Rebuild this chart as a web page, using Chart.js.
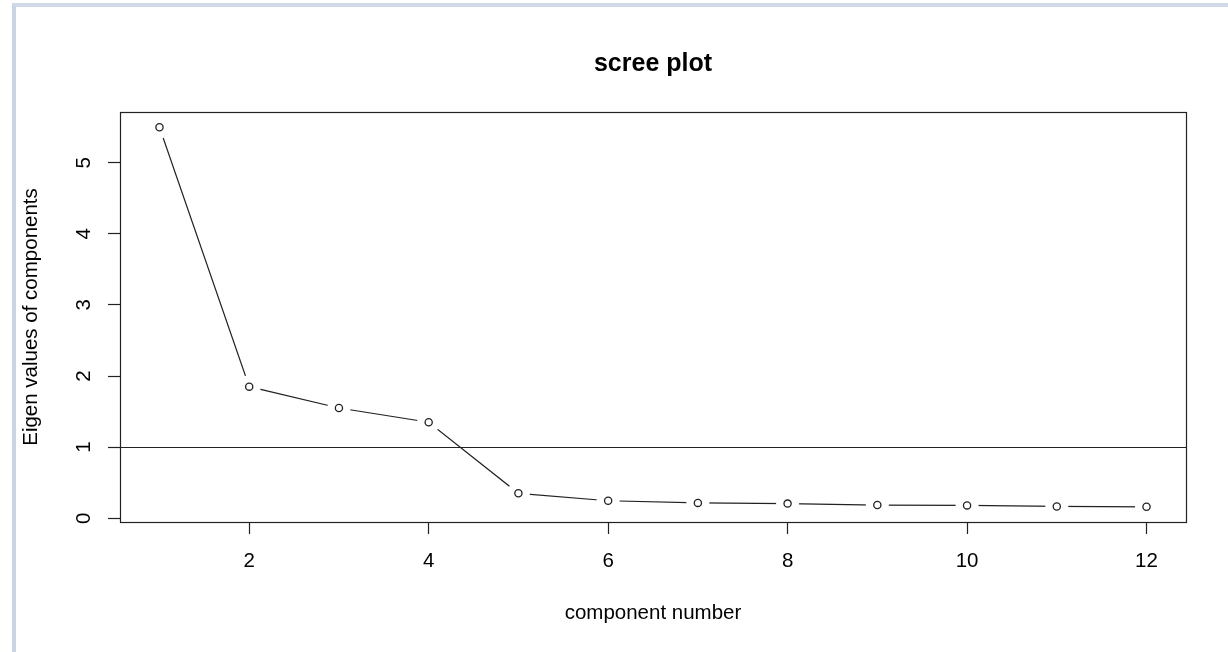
<!DOCTYPE html>
<html>
<head>
<meta charset="utf-8">
<script src="https://cdn.jsdelivr.net/npm/chart.js@4"></script>
<style>
  html, body { margin: 0; padding: 0; background: #ffffff; }
  #frame {
    position: absolute; left: 12px; top: 3px; width: 1216px; height: 649px;
    border-left: 4px solid #c9d5e3; border-top: 4px solid #d0dae6;
    box-sizing: border-box;
  }
  #wrap { position: absolute; left: 0; top: 0; width: 1228px; height: 652px; }
</style>
</head>
<body>
<div id="frame"></div>
<div id="wrap"><canvas id="chart1" width="1228" height="652"></canvas></div>
<script>
const components = [1, 2, 3, 4, 5, 6, 7, 8, 9, 10, 11, 12];
const eigenValues = [5.50, 1.85, 1.55, 1.35, 0.35, 0.245, 0.215, 0.205, 0.185, 0.18, 0.165, 0.16];
const xTicks = [2, 4, 6, 8, 10, 12];
const yTicks = [0, 1, 2, 3, 4, 5];
const refLine = 1;

const fontFamily = "'Liberation Sans', Arial, sans-serif";
const ink = "#222222";

// R style range: data range stretched by 4% on each side
function rRange(vals) {
    const lo = Math.min(...vals), hi = Math.max(...vals);
    const pad = (hi - lo) * 0.04;
    return [lo - pad, hi + pad];
}
const xr = rRange(components);
const yr = rRange(eigenValues);

const pts = components.map((c, i) => ({ x: c, y: eigenValues[i] }));

const boxPlugin = {
    id: "box",
    afterDatasetsDraw(chart) {
        const { ctx, chartArea, scales } = chart;
        ctx.save();
        ctx.strokeStyle = ink;
        ctx.lineWidth = 1.2;
        const y1 = Math.round(scales.y.getPixelForValue(refLine)) + 0.5;
        ctx.beginPath();
        ctx.moveTo(chartArea.left, y1);
        ctx.lineTo(chartArea.right, y1);
        ctx.stroke();
        ctx.strokeRect(Math.round(chartArea.left) + 0.5, Math.round(chartArea.top) + 0.5,
            Math.round(chartArea.width), Math.round(chartArea.height));
        ctx.restore();
    }
};

new Chart(document.getElementById("chart1"), {
    type: "scatter",
    data: {
        datasets: [
            {   // points on top
                data: pts,
                showLine: false,
                pointRadius: 3.6,
                pointBorderWidth: 1.3,
                pointBorderColor: ink,
                pointBackgroundColor: "#ffffff",
                order: 1
            },
            {   // white gap round each point, like type = "b"
                data: pts,
                showLine: false,
                pointRadius: 11.5,
                pointBorderWidth: 0,
                pointBackgroundColor: "#ffffff",
                pointBorderColor: "#ffffff",
                order: 2
            },
            {   // connecting line
                data: pts,
                showLine: true,
                borderColor: ink,
                borderWidth: 1.2,
                pointRadius: 0,
                order: 3
            }
        ]
    },
    options: {
        responsive: false,
        animation: false,
        events: [],
        layout: { padding: { left: 0, right: 42, top: 0, bottom: 0 } },
        plugins: {
            legend: { display: false },
            tooltip: { enabled: false },
            title: {
                display: true,
                text: "scree plot",
                fullSize: false,
                color: "#000000",
                font: { family: fontFamily, size: 25, weight: "bold", lineHeight: 1.2 },
                padding: { top: 49, bottom: 33 }
            }
        },
        scales: {
            x: {
                type: "linear",
                position: "bottom",
                min: xr[0],
                max: xr[1],
                afterBuildTicks: s => { s.ticks = xTicks.map(v => ({ value: v })); },
                afterFit: s => { s.height = 130; },
                border: { display: false },
                grid: { drawOnChartArea: false, drawTicks: true, tickLength: 12, tickColor: ink, tickWidth: 1.2 },
                ticks: {
                    color: "#000000",
                    padding: 15,
                    maxRotation: 0,
                    autoSkip: false,
                    font: { family: fontFamily, size: 20.5, lineHeight: 1.2 }
                },
                title: {
                    display: true,
                    text: "component number",
                    color: "#000000",
                    font: { family: fontFamily, size: 20.5, lineHeight: 1.2 },
                    padding: { top: 0, bottom: 26.5 }
                }
            },
            y: {
                type: "linear",
                position: "left",
                min: yr[0],
                max: yr[1],
                afterBuildTicks: s => { s.ticks = yTicks.map(v => ({ value: v })); },
                afterFit: s => { s.width = 120; },
                border: { display: false },
                grid: { drawOnChartArea: false, drawTicks: true, tickLength: 12, tickColor: ink, tickWidth: 1.2 },
                ticks: {
                    color: "#000000",
                    padding: 18,
                    minRotation: 90,
                    maxRotation: 90,
                    crossAlign: "center",
                    autoSkip: false,
                    font: { family: fontFamily, size: 20.5, lineHeight: 1.2 }
                },
                title: {
                    display: true,
                    text: "Eigen values of components",
                    color: "#000000",
                    font: { family: fontFamily, size: 20.5, lineHeight: 1.2 },
                    padding: { top: 19, bottom: 0 }
                }
            }
        }
    },
    plugins: [boxPlugin]
});
</script>
</body>
</html>
